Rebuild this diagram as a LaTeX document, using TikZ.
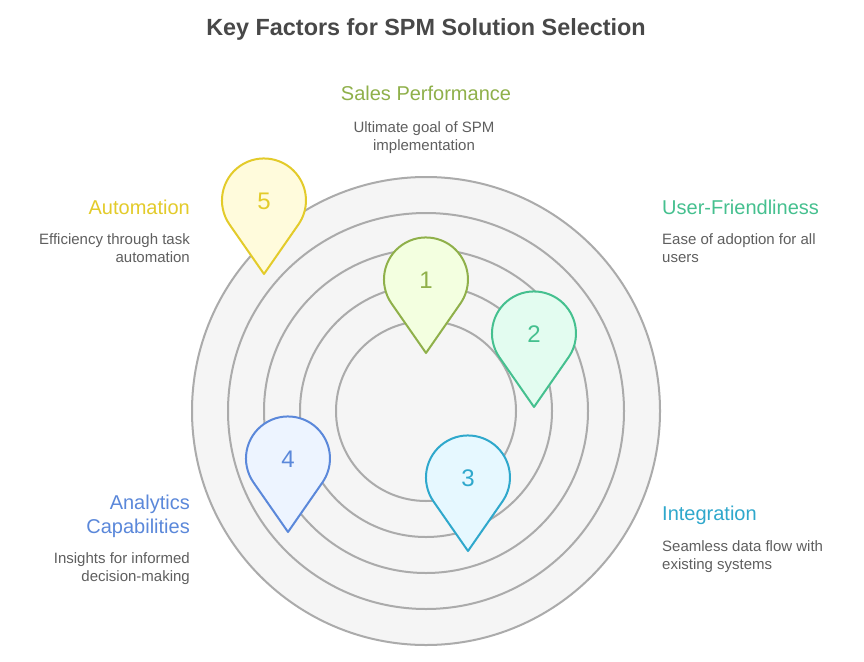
\documentclass[tikz,border=0pt]{standalone}
\usepackage{fontspec}
\setmainfont{Liberation Sans}
\definecolor{titlec}{HTML}{484848}
\definecolor{bodyc}{HTML}{5F5F5F}
\definecolor{ringc}{HTML}{ABABAB}
\definecolor{ringf}{HTML}{F5F5F5}
\definecolor{gA}{HTML}{8FB04A}\definecolor{gAf}{HTML}{F3FFE0}
\definecolor{gB}{HTML}{45C08F}\definecolor{gBf}{HTML}{E3FCF0}
\definecolor{gC}{HTML}{2FA8CC}\definecolor{gCf}{HTML}{E6F8FF}
\definecolor{gD}{HTML}{5B88DA}\definecolor{gDf}{HTML}{EDF4FF}
\definecolor{gE}{HTML}{E3CB2A}\definecolor{gEf}{HTML}{FFFBDC}
\tikzset{
 ring/.style={draw=ringc,line width=2pt,fill=ringf},
 pinshape/.style={line width=2pt,line join=round},
 pinnum/.style={font=\fontsize{24}{24}\selectfont,inner sep=0pt},
 head/.style={font=\fontsize{20}{24}\selectfont,inner sep=0pt},
 body/.style={font=\fontsize{15}{18}\selectfont,text=bodyc,inner sep=0pt},
 ttl/.style={font=\fontsize{23.4}{28}\selectfont\bfseries,text=titlec,inner sep=0pt},
}
\newcommand{\pinat}[6]{% name,cx,cy,stroke,fill,num
 \draw[pinshape,draw=#4,fill=#5] (#2,#3+73.5) -- (#2-34.6,#3+23.8)
   arc[start angle=145.4,end angle=394.6,radius=42] -- cycle;
 \node[pinnum,text=#4] (#1) at (#2,#3+1) {#6};
}
\begin{document}
\begin{tikzpicture}[x=1pt,y=-1pt]
\useasboundingbox (0,0) rectangle (864,661);
\fill[white] (0,0) rectangle (864,661);
\coordinate (c) at (426,411);
\node[ring,circle,minimum size=468pt,inner sep=0pt] (r5) at (c) {};
\node[ring,circle,minimum size=396pt,inner sep=0pt] (r4) at (c) {};
\node[ring,circle,minimum size=324pt,inner sep=0pt] (r3) at (c) {};
\node[ring,circle,minimum size=252pt,inner sep=0pt] (r2) at (c) {};
\node[ring,circle,minimum size=180pt,inner sep=0pt] (r1) at (c) {};
\pinat{p5}{264}{200.5}{gE}{gEf}{5}
\pinat{p1}{426}{279.5}{gA}{gAf}{1}
\pinat{p2}{534}{333.5}{gB}{gBf}{2}
\pinat{p3}{468}{477.5}{gC}{gCf}{3}
\pinat{p4}{288}{458.5}{gD}{gDf}{4}
\node[ttl] (title) at (426,29) {Key Factors for SPM Solution Selection};
\node[head,text=gA] (h1) at (426,93.5) {Sales Performance};
\node[body,align=center] (b1) at (424,137.5) {Ultimate goal of SPM\\implementation};
\node[head,text=gB,anchor=west] (h2) at (662,207.5) {User-Friendliness};
\node[body,align=left,anchor=north west] (b2) at (662,233.5) {Ease of adoption for all\\users};
\node[head,text=gC,anchor=west] (h3) at (662,515) {Integration};
\node[body,align=left,anchor=north west] (b3) at (662,540) {Seamless data flow with\\existing systems};
\node[head,text=gD,align=right,anchor=north east] (h4) at (190,495) {Analytics\\Capabilities};
\node[body,align=right,anchor=north east] (b4) at (190,552) {Insights for informed\\decision-making};
\node[head,text=gE,anchor=east] (h5) at (190,207.5) {Automation};
\node[body,align=right,anchor=north east] (b5) at (190,233.5) {Efficiency through task\\automation};
\end{tikzpicture}
\end{document}
